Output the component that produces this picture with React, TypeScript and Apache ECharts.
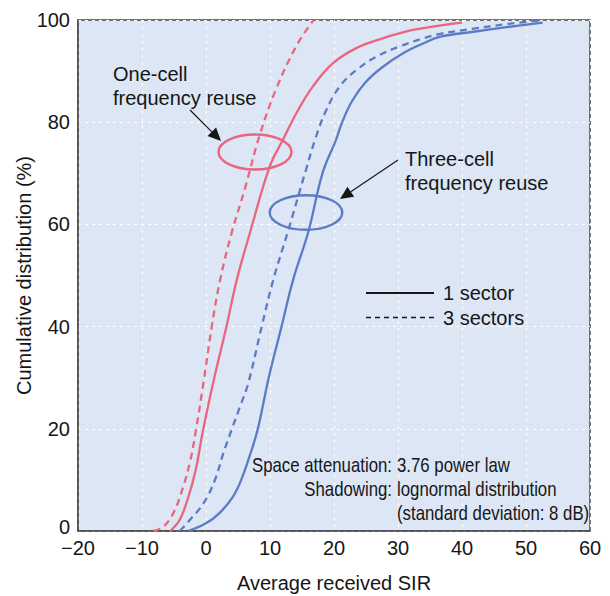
import React, { useEffect, useRef } from "react";
import * as echarts from "echarts";

// ---- Data ----
const oneCell1SectorX = [-5.6, -4.1, -2.8, -1.6, -0.5, 1.3, 3.2, 4.8, 6.9, 9.95, 12.0, 14.1, 16.7, 19.8, 23.5, 27.6, 31.8, 36.5, 40.0];
const oneCell1SectorY = [0, 2.2, 6.5, 12, 19.5, 30, 40, 49.1, 58.5, 71.3, 76.5, 81.7, 87.0, 91.5, 94.5, 96.4, 97.9, 98.9, 99.5];

const oneCell3SectorX = [-8.2, -6.7, -5.1, -3.6, -2.5, -1.6, -0.4, 0.9, 2.2, 4.0, 6.1, 8.4, 11.0, 14.2, 16.8];
const oneCell3SectorY = [0, 0.8, 3.5, 8.5, 13.5, 19.5, 29, 40, 49.1, 58.3, 67.1, 77.5, 86.6, 95.1, 100];

const threeCell1SectorX = [-2.8, 0, 2.1, 4.2, 5.5, 6.9, 8.1, 9.8, 11.8, 13.6, 16.0, 18.2, 20.3, 21.4, 22.9, 25.0, 27.6, 30.8, 33.9, 36.5, 41.8, 47.0, 52.6];
const threeCell1SectorY = [0, 1.5, 3.5, 6.7, 10, 15, 20, 30, 40, 49.1, 58.6, 70, 76.5, 80.4, 84.3, 87.9, 90.8, 93.5, 95.4, 96.7, 97.7, 98.6, 99.5];

const threeCell3SectorX = [-4.1, -2.5, -0.4, 1.4, 2.7, 4.0, 5.3, 6.6, 8.7, 10.5, 12.8, 15.6, 17.2, 18.8, 20.9, 23.5, 26.6, 30.2, 33.9, 36.6, 41.8, 47.0, 52.7];
const threeCell3SectorY = [0, 2.2, 5.4, 10, 15.2, 19.8, 24.3, 28.9, 40, 49.1, 58.6, 70.6, 77.2, 82.4, 87.0, 90.2, 92.8, 94.8, 96.4, 97.3, 98.3, 99.2, 100];

const legendLabels = ["1 sector", "3 sectors"];
const oneCellLabel = "One-cell\nfrequency reuse";
const threeCellLabel = "Three-cell\nfrequency reuse";
const noteKeys = ["Space attenuation:", "Shadowing:"];
const noteValues = ["3.76 power law", "lognormal distribution", "(standard deviation: 8 dB)"];
const xAxisTitle = "Average received SIR";
const yAxisTitle = "Cumulative distribution (%)";

const RED = "#e9667d";
const BLUE = "#5b7bc5";
const BG = "#dce6f5";
const INK = "#161616";
const FONT = "'Liberation Sans', Arial, Helvetica, sans-serif";

const zip = (xs: number[], ys: number[]) => xs.map((x, i) => [x, ys[i]]);

function arrow(x1: number, y1: number, x2: number, y2: number) {
  const dx = x2 - x1;
  const dy = y2 - y1;
  const len = Math.sqrt(dx * dx + dy * dy);
  const ux = dx / len;
  const uy = dy / len;
  const hl = 13;
  const hw = 6;
  const bx = x2 - ux * hl;
  const by = y2 - uy * hl;
  return [
    {
      type: "line",
      shape: { x1, y1, x2: bx, y2: by },
      style: { stroke: INK, lineWidth: 1.2 },
      z: 10,
    },
    {
      type: "polygon",
      shape: {
        points: [
          [x2, y2],
          [bx - uy * hw, by + ux * hw],
          [bx + uy * hw, by - ux * hw],
        ],
      },
      style: { fill: INK },
      z: 10,
    },
  ];
}

export default function App() {
  const ref = useRef<HTMLDivElement>(null);

  useEffect(() => {
    document.body.style.margin = "0";
    if (!ref.current) return;
    const chart = echarts.init(ref.current, null, { renderer: "svg" });

    const lineSeries = (name: string, xs: number[], ys: number[], color: string, dashed: boolean) => ({
      type: "line",
      name,
      data: zip(xs, ys),
      symbol: "none",
      showSymbol: false,
      smooth: 0.4,
      lineStyle: { color, width: 2.3, type: dashed ? [7, 5] : "solid" },
      z: 3,
    });

    const noteX = 392;
    const valX = 397;
    const rowsY = [465, 489, 513];
    const narrow = 0.84;

    const option: any = {
      animation: false,
      grid: {
        left: 78,
        right: 20,
        top: 20,
        bottom: 65,
        show: true,
        backgroundColor: BG,
        borderColor: "#4a4a4a",
        borderWidth: 1.5,
        containLabel: false,
        outerBoundsMode: "none",
      },
      xAxis: {
        type: "value",
        min: -20,
        max: 60,
        interval: 10,
        name: xAxisTitle,
        nameLocation: "middle",
        nameGap: 42,
        nameMoveOverlap: false,
        nameTextStyle: { fontSize: 20, color: INK, fontFamily: FONT },
        axisLine: { show: true, onZero: false, lineStyle: { color: "#4a4a4a", width: 1.5 } },
        axisTick: { show: false },
        axisLabel: {
          fontSize: 20,
          color: INK,
          fontFamily: FONT,
          margin: 7,
          formatter: (v: number) => String(v).replace("-", "\u2212"),
        },
        splitLine: { show: true, lineStyle: { color: "#ffffff", width: 1, type: [3, 4] } },
      },
      yAxis: {
        type: "value",
        min: 0,
        max: 100,
        interval: 20,
        name: yAxisTitle,
        nameLocation: "middle",
        nameGap: 44,
        nameMoveOverlap: false,
        nameTextStyle: { fontSize: 20, color: INK, fontFamily: FONT },
        axisLine: { show: true, onZero: false, lineStyle: { color: "#4a4a4a", width: 1.5 } },
        axisTick: { show: false },
        axisLabel: {
          fontSize: 20,
          color: INK,
          fontFamily: FONT,
          margin: 8,
          formatter: (v: number) => (v === 0 ? "{z|0}" : String(v)),
          rich: { z: { fontSize: 20, color: INK, fontFamily: FONT, padding: [0, 0, 8, 0] } },
        },
        splitLine: { show: true, lineStyle: { color: "#ffffff", width: 1, type: [3, 4] } },
      },
      series: [
        lineSeries("One-cell, 1 sector", oneCell1SectorX, oneCell1SectorY, RED, false),
        lineSeries("One-cell, 3 sectors", oneCell3SectorX, oneCell3SectorY, RED, true),
        lineSeries("Three-cell, 1 sector", threeCell1SectorX, threeCell1SectorY, BLUE, false),
        lineSeries("Three-cell, 3 sectors", threeCell3SectorX, threeCell3SectorY, BLUE, true),
      ],
      graphic: [
        {
          type: "ellipse",
          shape: { cx: 255, cy: 152, rx: 36.5, ry: 17.5 },
          style: { fill: "none", stroke: RED, lineWidth: 2.4 },
          z: 5,
        },
        {
          type: "ellipse",
          shape: { cx: 306, cy: 212.5, rx: 36.3, ry: 17.3 },
          style: { fill: "none", stroke: BLUE, lineWidth: 2.4 },
          z: 5,
        },
        {
          type: "text",
          x: 113,
          y: 62,
          style: { text: oneCellLabel, fontSize: 20, lineHeight: 24, fill: INK, fontFamily: FONT, align: "left", verticalAlign: "top" },
          z: 10,
        },
        {
          type: "text",
          x: 405,
          y: 147,
          style: { text: threeCellLabel, fontSize: 20, lineHeight: 24, fill: INK, fontFamily: FONT, align: "left", verticalAlign: "top" },
          z: 10,
        },
        ...arrow(190, 110, 221, 141),
        ...arrow(398, 160, 340, 199),
        {
          type: "line",
          shape: { x1: 366, y1: 293, x2: 434, y2: 293 },
          style: { stroke: INK, lineWidth: 1.8 },
          z: 10,
        },
        {
          type: "line",
          shape: { x1: 366, y1: 317.5, x2: 434, y2: 317.5 },
          style: { stroke: INK, lineWidth: 1.6, lineDash: [5, 4] },
          z: 10,
        },
        {
          type: "text",
          x: 443,
          y: 293,
          style: { text: legendLabels[0], fontSize: 20, fill: INK, fontFamily: FONT, align: "left", verticalAlign: "middle" },
          z: 10,
        },
        {
          type: "text",
          x: 443,
          y: 317.5,
          style: { text: legendLabels[1], fontSize: 20, fill: INK, fontFamily: FONT, align: "left", verticalAlign: "middle" },
          z: 10,
        },
        ...noteKeys.map((t, i) => ({
          type: "text",
          x: noteX,
          y: rowsY[i],
          scaleX: narrow,
          style: { text: t, fontSize: 20, fill: INK, fontFamily: FONT, align: "right", verticalAlign: "middle" },
          z: 10,
        })),
        ...noteValues.map((t, i) => ({
          type: "text",
          x: valX,
          y: rowsY[i],
          scaleX: narrow,
          style: { text: t, fontSize: 20, fill: INK, fontFamily: FONT, align: "left", verticalAlign: "middle" },
          z: 10,
        })),
      ],
    };

    chart.setOption(option);
    return () => chart.dispose();
  }, []);

  return <div ref={ref} style={{ width: 610, height: 596 }} />;
}
